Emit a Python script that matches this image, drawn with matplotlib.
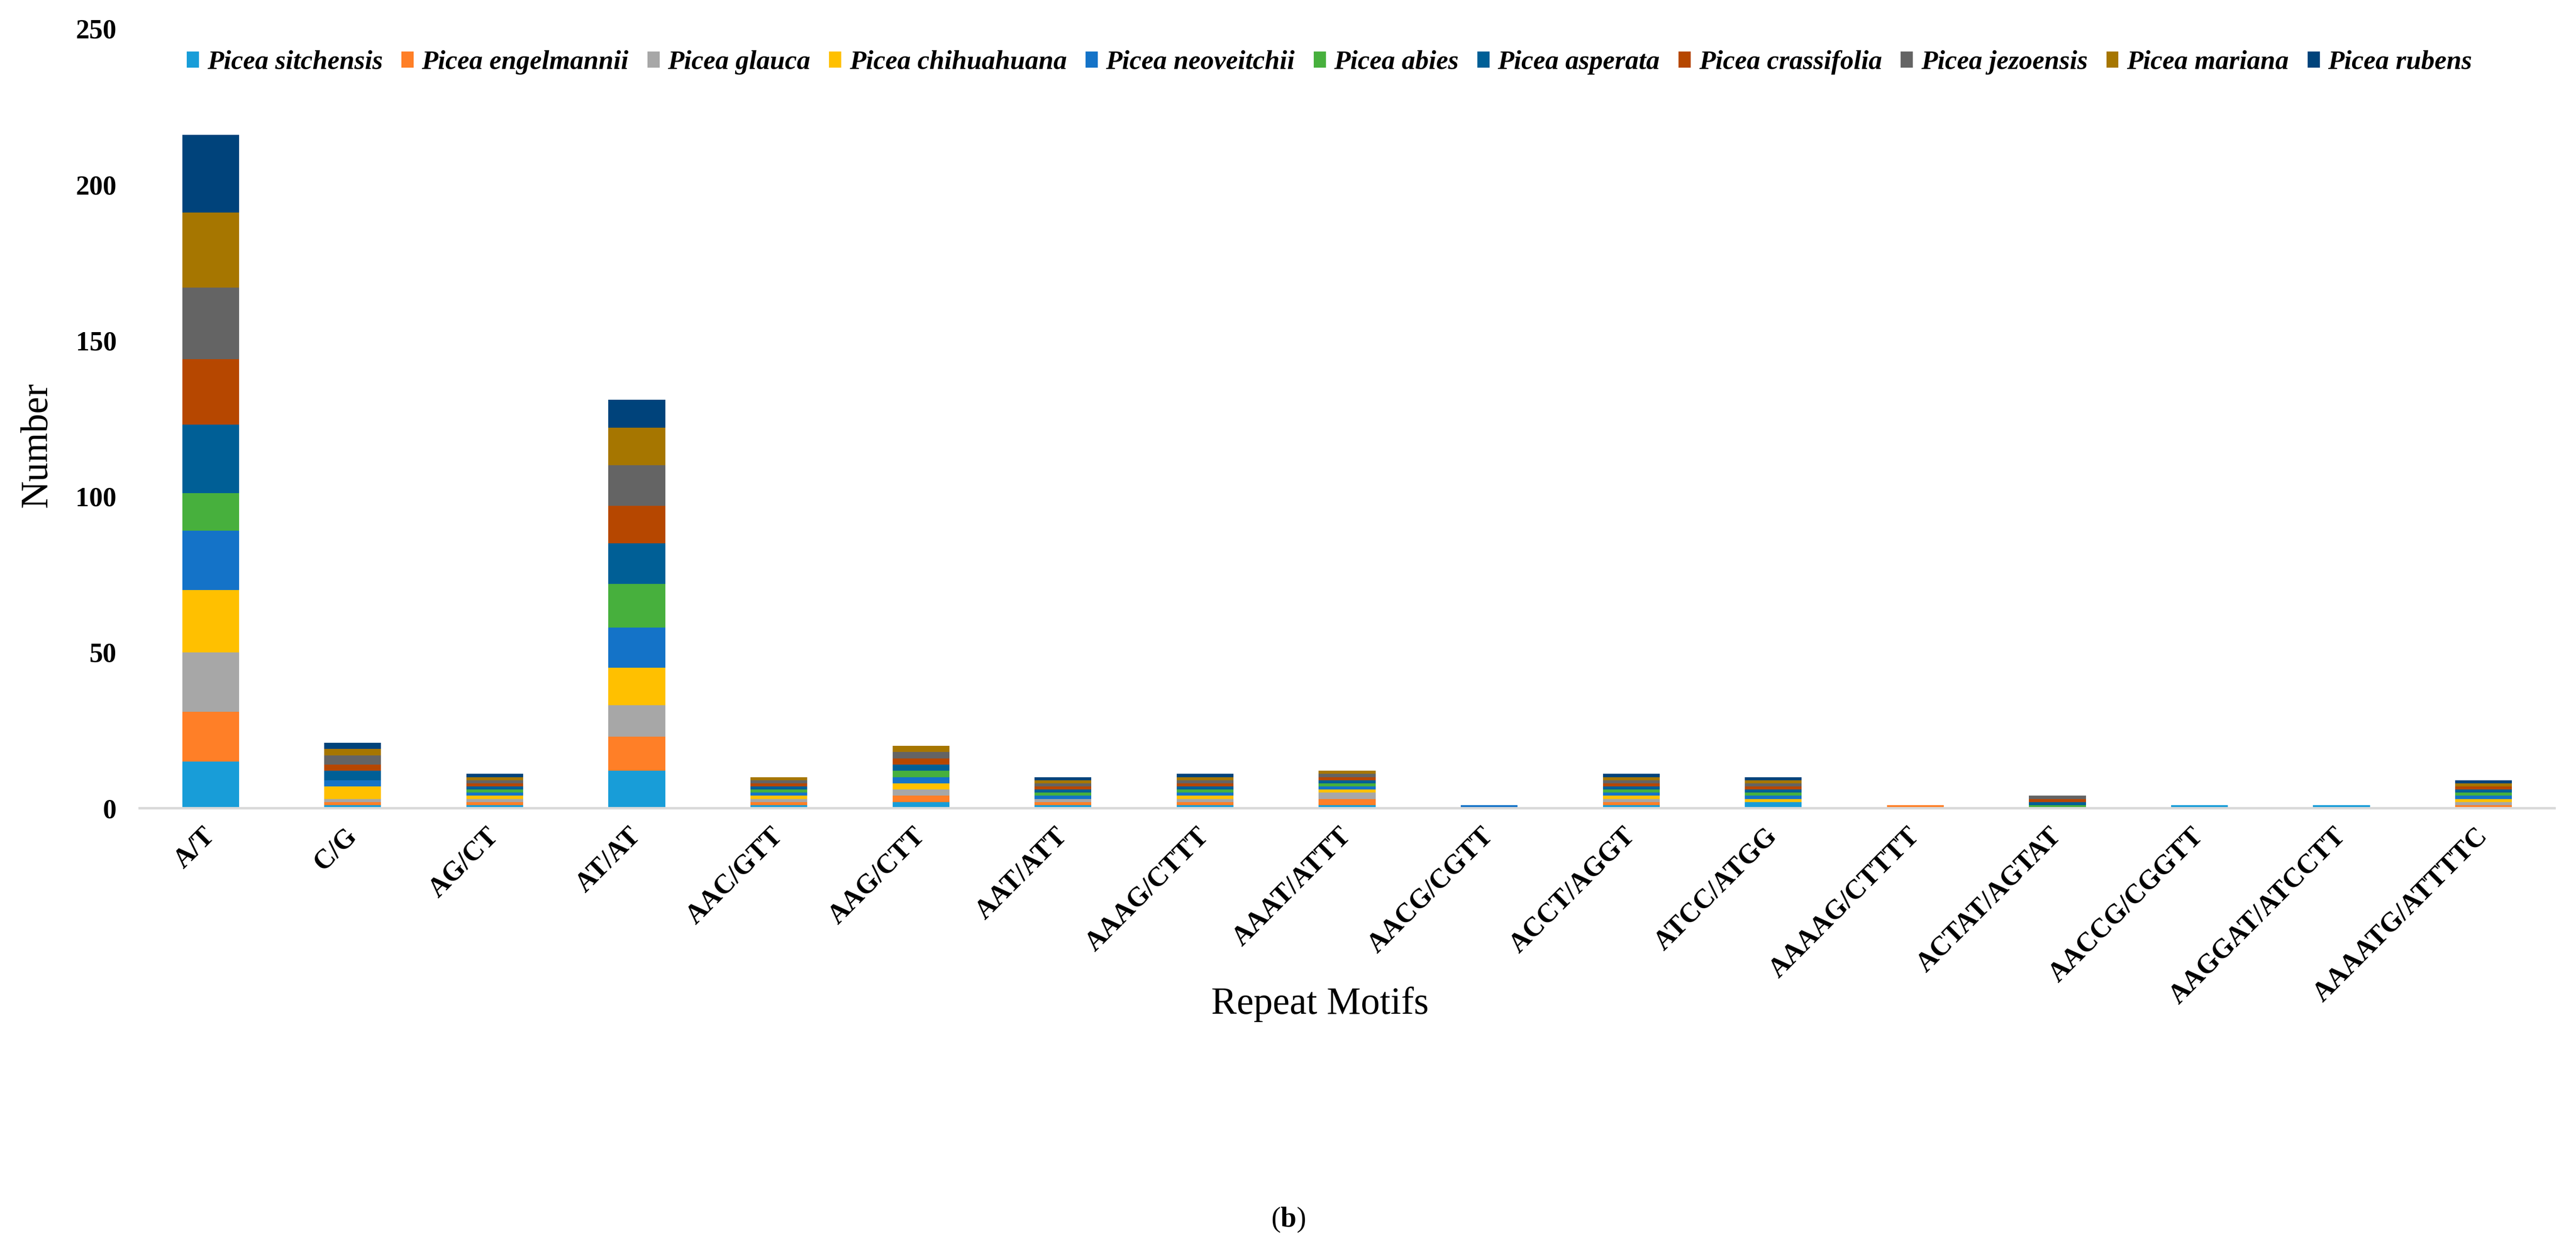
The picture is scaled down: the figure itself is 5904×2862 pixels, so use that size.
import numpy as np
import matplotlib
matplotlib.use('Agg')
import matplotlib.pyplot as plt

plt.rcParams['font.family'] = ['Liberation Serif', 'DejaVu Serif']
plt.rcParams['mathtext.fontset'] = 'custom'
plt.rcParams['mathtext.rm'] = 'Liberation Serif'
plt.rcParams['mathtext.bf'] = 'Liberation Serif:bold'

# ========== data
motifs = ['A/T', 'C/G', 'AG/CT', 'AT/AT', 'AAC/GTT', 'AAG/CTT', 'AAT/ATT', 'AAAG/CTTT',
          'AAAT/ATTT', 'AACG/CGTT', 'ACCT/AGGT', 'ATCC/ATGG', 'AAAAG/CTTTT',
          'ACTAT/AGTAT', 'AACCG/CGGTT', 'AAGGAT/ATCCTT', 'AAAATG/ATTTTC']

species = ['Picea sitchensis', 'Picea engelmannii', 'Picea glauca', 'Picea chihuahuana',
           'Picea neoveitchii', 'Picea abies', 'Picea asperata', 'Picea crassifolia',
           'Picea jezoensis', 'Picea mariana', 'Picea rubens']

sitchensis = [15, 1, 1, 12, 1, 2, 1, 1, 1, 0, 1, 2, 0, 0, 1, 1, 0]
engelmannii = [16, 1, 1, 11, 1, 2, 1, 1, 2, 0, 1, 0, 1, 0, 0, 0, 1]
glauca = [19, 1, 1, 10, 1, 2, 1, 1, 2, 0, 1, 0, 0, 0, 0, 0, 1]
chihuahuana = [20, 4, 1, 12, 1, 2, 0, 1, 1, 0, 1, 1, 0, 0, 0, 0, 1]
neoveitchii = [19, 2, 1, 13, 1, 2, 1, 1, 1, 1, 1, 1, 0, 0, 0, 0, 1]
abies = [12, 0, 1, 14, 1, 2, 1, 1, 1, 0, 1, 1, 0, 1, 0, 0, 1]
asperata = [22, 3, 1, 13, 1, 2, 1, 1, 1, 0, 1, 1, 0, 1, 0, 0, 1]
crassifolia = [21, 2, 1, 12, 1, 2, 1, 1, 1, 0, 1, 1, 0, 1, 0, 0, 1]
jezoensis = [23, 3, 1, 13, 1, 2, 1, 1, 1, 0, 1, 1, 0, 1, 0, 0, 0]
mariana = [24, 2, 1, 12, 1, 2, 1, 1, 1, 0, 1, 1, 0, 0, 0, 0, 1]
rubens = [25, 2, 1, 9, 0, 0, 1, 1, 0, 0, 1, 1, 0, 0, 0, 0, 1]

counts = [sitchensis, engelmannii, glauca, chihuahuana, neoveitchii, abies,
          asperata, crassifolia, jezoensis, mariana, rubens]

colors = ['#189DD8', '#FF7F27', '#A7A7A7', '#FFC000', '#1473C8', '#47B03D',
          '#005F96', '#B64700', '#646464', '#A67600', '#00437B']

# ========== plot figure
W, H = 5904, 2862
fig = plt.figure(figsize=(W / 100, H / 100), dpi=100)
ax = fig.add_axes([0.0542, 0.3529, 0.9375, 0.6241])

x = np.arange(len(motifs))
bottom = np.zeros(len(motifs))
for name, vals, c in zip(species, counts, colors):
    ax.bar(x, vals, width=0.4, bottom=bottom, color=c, label=name, linewidth=0)
    bottom += np.array(vals)

ax.set_xlim(-0.5, len(motifs) - 0.5)
ax.set_ylim(0, 250)
ax.set_yticks([0, 50, 100, 150, 200, 250])

for s in ['top', 'right', 'left']:
    ax.spines[s].set_visible(False)
ax.spines['bottom'].set_color('#D9D9D9')
ax.spines['bottom'].set_linewidth(4)

ax.tick_params(axis='y', length=0, pad=38, labelsize=45)
ax.tick_params(axis='x', length=0, pad=40, labelsize=45)
ax.set_xticks(x)
ax.set_xticklabels(motifs, rotation=45, ha='right', va='center', rotation_mode='anchor')
for lab in ax.get_xticklabels() + ax.get_yticklabels():
    lab.set_fontweight('bold')

# axis titles
fig.text(85 / W, 1 - 1020 / H, 'Number', fontsize=63, rotation=90, ha='center', va='center')
fig.text(3025 / W, 1 - 2301 / H, 'Repeat Motifs', fontsize=63, ha='center', va='center')
fig.text(0.5, 1 - 2795 / H, r'($\mathbf{b}$)', fontsize=47, ha='center', va='center')

leg = fig.legend(loc='center', bbox_to_anchor=(3047 / W, 1 - 143 / H), ncol=11,
                 frameon=False, prop={'style': 'italic', 'weight': 'bold', 'size': 44.4},
                 handlelength=0.45, handleheight=0.55, handletextpad=0.3,
                 columnspacing=0.7, borderaxespad=0)

fig.savefig('out.png', dpi=100)
